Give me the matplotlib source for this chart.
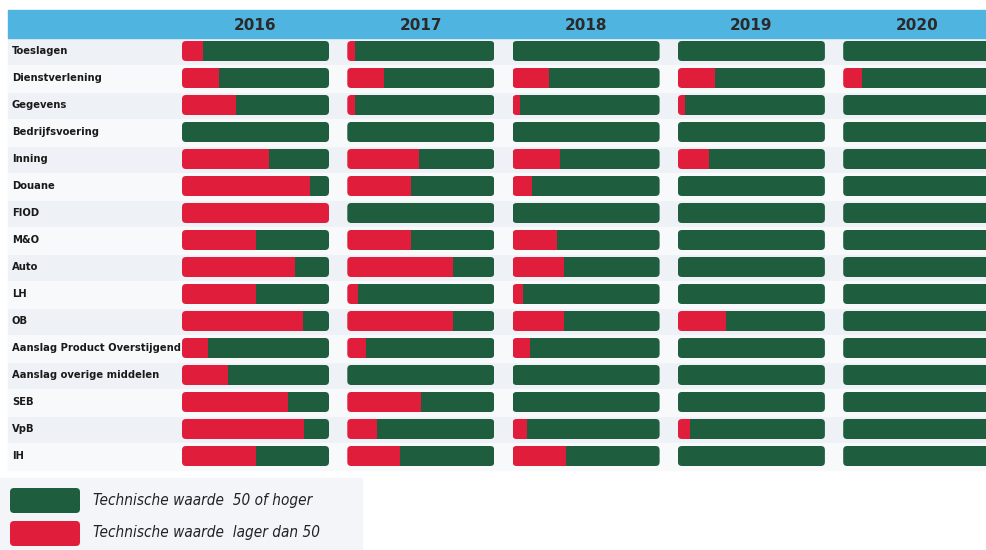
import matplotlib.pyplot as plt
from matplotlib.patches import FancyBboxPatch, Rectangle

# Data: share of each system with technical value below 50, per year
years = ["2016", "2017", "2018", "2019", "2020"]
categories = ["Toeslagen", "Dienstverlening", "Gegevens", "Bedrijfsvoering", "Inning",
              "Douane", "FIOD", "M&O", "Auto", "LH", "OB", "Aanslag Product Overstijgend",
              "Aanslag overige middelen", "SEB", "VpB", "IH"]
red_2016 = [0.14, 0.25, 0.37, 0.00, 0.59, 0.87, 1.00, 0.50, 0.77, 0.50, 0.82, 0.18, 0.31, 0.72, 0.83, 0.50]
red_2017 = [0.05, 0.25, 0.05, 0.00, 0.49, 0.43, 0.00, 0.43, 0.72, 0.07, 0.72, 0.13, 0.00, 0.50, 0.20, 0.36]
red_2018 = [0.00, 0.25, 0.05, 0.00, 0.32, 0.13, 0.00, 0.30, 0.35, 0.07, 0.35, 0.12, 0.00, 0.00, 0.10, 0.36]
red_2019 = [0.00, 0.25, 0.05, 0.00, 0.21, 0.00, 0.00, 0.00, 0.00, 0.00, 0.33, 0.00, 0.00, 0.00, 0.08, 0.00]
red_2020 = [0.00, 0.13, 0.00, 0.00, 0.00, 0.00, 0.00, 0.00, 0.00, 0.00, 0.00, 0.00, 0.00, 0.00, 0.00, 0.00]
red_shares = [red_2016, red_2017, red_2018, red_2019, red_2020]
legend_labels = ["Technische waarde  50 of hoger", "Technische waarde  lager dan 50"]

GREEN = "#1e5e3f"
RED = "#e01e3c"
HEADER = "#4fb4e0"

plt.rcParams['font.family'] = ['DejaVu Sans']

fig = plt.figure(figsize=(9.87, 5.5), dpi=100)
ax = fig.add_axes([0, 0, 1, 1])
ax.set_xlim(0, 987)
ax.set_ylim(550, 0)
ax.axis("off")

# layout (pixel units)
col_left = [182 + i * 165.3 for i in range(len(years))]
bar_w = 147
row_y0 = 51
row_step = 27.0
bar_h = 20

# table background
ax.add_patch(Rectangle((8, 38), 987, 466 - 38, color="#eef2f7", zorder=0))
for i in range(len(categories)):
    if i % 2 == 1:
        y = row_y0 + i * row_step
        ax.add_patch(Rectangle((8, y - row_step / 2), 987, row_step, color="#f7f9fb", zorder=0))

# header band
ax.add_patch(Rectangle((8, 10), 987, 28, color=HEADER, zorder=1))
for j, yr in enumerate(years):
    ax.text(col_left[j] + bar_w / 2, 25, yr, ha="center", va="center",
            fontsize=11, fontweight="bold", color="#2a2a2a", zorder=3)

# row labels
for i, cat in enumerate(categories):
    ax.text(12, row_y0 + i * row_step, cat, ha="left", va="center",
            fontsize=8, fontweight="bold", fontstretch="condensed",
            color="#1a1a1a", zorder=3)

# bars: red part then green remainder, clipped to a rounded cell
ys = [row_y0 + i * row_step for i in range(len(categories))]
for j in range(len(years)):
    reds = [r * bar_w for r in red_shares[j]]
    greens = [bar_w - r for r in reds]
    for i in range(len(categories)):
        clip = FancyBboxPatch((col_left[j], ys[i] - bar_h / 2), bar_w, bar_h,
                              boxstyle="round,pad=0,rounding_size=4",
                              facecolor="none", edgecolor="none")
        ax.add_patch(clip)
        b1 = ax.barh(ys[i], reds[i], height=bar_h, left=col_left[j], color=RED, zorder=2)
        b2 = ax.barh(ys[i], greens[i], height=bar_h, left=col_left[j] + reds[i], color=GREEN, zorder=2)
        for b in list(b1) + list(b2):
            b.set_clip_path(clip)

# legend
ax.add_patch(Rectangle((0, 478), 362, 72, color="#f3f5f8", zorder=0))
leg_colors = [GREEN, RED]
for k, (lab, col) in enumerate(zip(legend_labels, leg_colors)):
    y = 500 + k * 33
    ax.add_patch(FancyBboxPatch((10, y - 12), 70, 25, boxstyle="round,pad=0,rounding_size=4",
                                facecolor=col, edgecolor="none", zorder=2))
    ax.text(93, y, lab, ha="left", va="center", fontsize=11, style="italic",
            fontstretch="condensed", color="#222222", zorder=3)

fig.savefig("out.png", dpi=100)
